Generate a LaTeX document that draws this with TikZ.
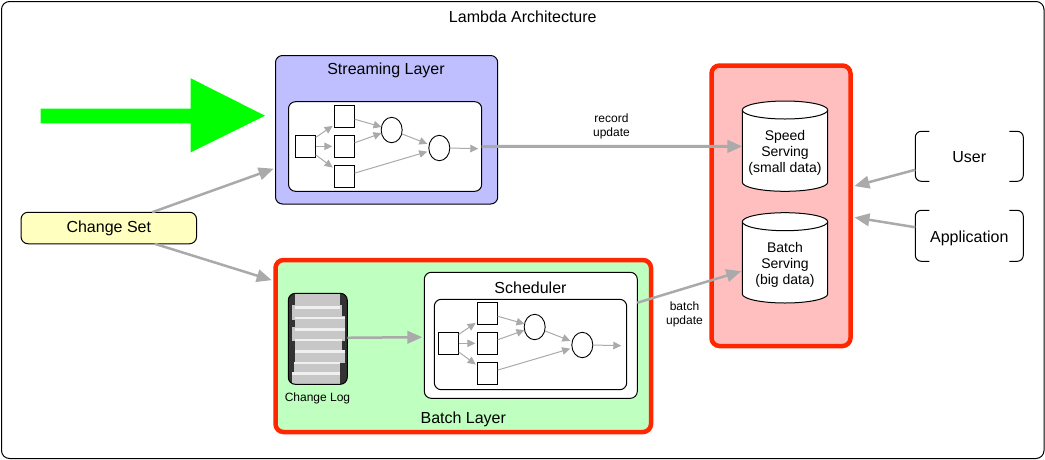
\documentclass[tikz,border=0pt]{standalone}
\usepackage{fontspec}
\setmainfont{Liberation Sans}
\usetikzlibrary{arrows.meta,shapes.geometric,calc}
\definecolor{appred}{HTML}{FF2600}
\definecolor{linegray}{HTML}{AAAAAA}
\definecolor{streamfill}{HTML}{BFBFFF}
\definecolor{batchfill}{HTML}{BFFFBF}
\definecolor{servefill}{HTML}{FFBFBF}
\definecolor{csfill}{HTML}{FFFFC0}
\tikzset{
  x=1pt,y=-1pt,
  every node/.style={outer sep=0pt,inner sep=0pt,text=black},
  txt/.style={font=\fontsize{16}{19}\selectfont,align=center},
  smalltxt/.style={font=\fontsize{12}{13.8}\selectfont,align=center},
  storetxt/.style={font=\fontsize{14}{16}\selectfont,align=center},
  panel/.style={draw=black,line width=1pt,rounded corners=7pt,fill=white},
  redpanel/.style={draw=appred,line width=4.5pt,rounded corners=8pt},
  sq/.style={draw=black,line width=.9pt,fill=white,minimum width=20.4pt,minimum height=22pt},
  circ/.style={draw=black,line width=.9pt,fill=white,ellipse,minimum width=21pt,minimum height=25.4pt},
  thin arrow/.style={draw=linegray,line width=1pt,-{Triangle[length=8pt,width=7.5pt]}},
  thick arrow/.style={draw=linegray,line width=3pt,-{Triangle[length=15pt,width=12.5pt]}},
  bracket/.style={draw=black,line width=1pt,rounded corners=6pt},
  flow/.pic={
    \node[sq] (s1) at (0,0) {};
    \node[sq] (s2) at (39,-29.8) {};
    \node[sq] (s3) at (39,0) {};
    \node[sq] (s4) at (39,30.1) {};
    \node[circ] (c1) at (86.2,-16.3) {};
    \node[circ] (c2) at (133.8,1.7) {};
    \coordinate (out) at (172.8,2.4);
    \draw[thin arrow,shorten >=2pt] (s1.41) -- (s2.219);
    \draw[thin arrow,shorten >=2pt] (s1.0) -- (s3.180);
    \draw[thin arrow,shorten >=2pt] (s1.-40) -- (s4.143);
    \draw[thin arrow] (s2.-15) -- (c1.163);
    \draw[thin arrow] (s3.19) -- (c1.197);
    \draw[thin arrow,shorten >=2pt] (c1.-21) -- (c2.161);
    \draw[thin arrow,shorten >=2pt] (s4.18) -- (c2.197);
    \draw[thin arrow] (c2.0) -- (out);
  }
}
\newcommand{\storedrum}[4]{% name, x, y, text
  \draw[draw=black,line width=1pt,fill=white]
    (#2-42.7,#3-36.15) arc[start angle=180,end angle=0,x radius=42.7pt,y radius=9pt]
    -- (#2+42.7,#3+36.15) arc[start angle=0,end angle=-180,x radius=42.7pt,y radius=9pt] -- cycle;
  \draw[draw=black,line width=1pt]
    (#2-42.7,#3-36.15) arc[start angle=180,end angle=360,x radius=42.7pt,y radius=9pt];
  \node[storetxt,minimum width=85.4pt,minimum height=76.3pt] (#1) at (#2,#3+7) {#4};
}
\begin{document}
\begin{tikzpicture}
\useasboundingbox (0,0) rectangle (1045,459);
\fill[white] (0,0) rectangle (1045,459);
\node[draw=black,line width=1pt,rounded corners=8pt,minimum width=1042.5pt,minimum height=457pt] (frame) at (522.75,230) {};
\node[txt] (title) at (522.8,16.5) {Lambda Architecture};

% green arrow
\fill[green] (40.7,108.7) -- (190.7,108.7) -- (190.7,78.3) -- (265,115.7) -- (190.7,152.3) -- (190.7,123.3) -- (40.7,123.3) -- cycle;

% change set
\node[draw=black,line width=1pt,rounded corners=7pt,fill=csfill,txt,minimum width=175.5pt,minimum height=31.5pt] (cs) at (108.8,228) {\raisebox{-2pt}{Change Set}};

% streaming layer
\node[panel,fill=streamfill,minimum width=222.2pt,minimum height=148.5pt] (stream) at (386.6,129.75) {};
\node[txt] (streamlabel) at (386,70.3) {Streaming Layer};
\node[panel,minimum width=193.2pt,minimum height=89.6pt] (streaminner) at (385.1,146.5) {};
\pic (a) at (305.5,146.3) {flow};

% batch layer
\node[redpanel,fill=batchfill,minimum width=375.5pt,minimum height=172pt] (batch) at (463.25,346) {};
\node[txt] (batchlabel) at (463.3,419) {Batch Layer};
\node[panel,minimum width=213pt,minimum height=126pt] (sched) at (530.8,335.3) {};
\node[txt] (schedlabel) at (530.5,287.7) {Scheduler};
\node[panel,minimum width=192.4pt,minimum height=90.4pt] (schedinner) at (530.5,344.5) {};
\pic (b) at (448.5,343.3) {flow};

% change log
\node[draw=none,fill=none,rounded corners=7pt,minimum width=59pt,minimum height=91pt] (log) at (317.8,338.8) {};
\begin{scope}
  \clip[rounded corners=7pt] (log.north west) rectangle (log.south east);
  \fill[black!80] (log.north west) rectangle (log.south east);
  \fill[black!22] (295.3,293) rectangle (340.3,306);
  \fill[black!22] (292.3,305) rectangle (342.3,320);
  \fill[black!22] (295.3,316.3) rectangle (344.7,328);
  \fill[black!22] (292.3,327) rectangle (344.7,341);
  \fill[black!22] (294.7,340) rectangle (342.3,352);
  \fill[black!22] (294.7,351) rectangle (344.7,363);
  \fill[black!22] (294,362) rectangle (340.3,374);
  \fill[black!22] (292.3,373) rectangle (340.3,385);
  \fill[black!6] (294.7,306.3) rectangle (340.3,309);
  \fill[black!6] (295,317) rectangle (344.7,319.3);
  \fill[black!6] (294.7,328) rectangle (344.7,331);
  \fill[black!6] (294.7,339.3) rectangle (342.3,341);
  \fill[black!6] (294.7,350.3) rectangle (344.7,353);
  \fill[black!6] (294,361.5) rectangle (340.3,364);
  \fill[black!6] (292.3,372) rectangle (340.3,375);
\end{scope}
\draw[black,line width=1pt,rounded corners=7pt] (log.north west) rectangle (log.south east);
\node[smalltxt] (loglabel) at (317.5,398) {Change Log};

% serving panel
\node[redpanel,fill=servefill,minimum width=139pt,minimum height=280.5pt] (serve) at (781,205.75) {};
\storedrum{speed}{785}{146.15}{Speed\\Serving\\(small data)}
\storedrum{batchstore}{785}{257.85}{Batch\\Serving\\(big data)}

% clients
\node[txt,minimum width=108pt,minimum height=50pt] (user) at (969.3,157) {User};
\node[txt,minimum width=108pt,minimum height=51pt] (app) at (969.3,238) {Application};
\foreach \n/\o in {user/-0.7,app/-2.2}{
  \draw[bracket] ($(\n.north west)+(14,\o)$) -- ($(\n.north west)+(0,\o)$) -- ($(\n.south west)+(0,\o)$) -- ($(\n.south west)+(14,\o)$);
  \draw[bracket] ($(\n.north east)+(-14,\o)$) -- ($(\n.north east)+(0,\o)$) -- ($(\n.south east)+(0,\o)$) -- ($(\n.south east)+(-14,\o)$);
}

% connectors
\draw[thick arrow,shorten >=2pt,line width=2.5pt] (cs.20) -- (stream.199);
\draw[thick arrow,shorten >=4pt,line width=2.5pt] (cs.-19) -- (batch.161);
\draw[thick arrow] (streaminner.0) -- (speed.171);
\draw[thick arrow,line width=2.5pt,shorten >=1pt] (sched.17) -- (batchstore.188);
\draw[thick arrow,line width=2.5pt,shorten >=2pt] (log.2) -- (sched.181);
\draw[thick arrow,line width=2.5pt,shorten >=4pt] ([yshift=.7pt]user.194) -- (serve.15);
\draw[thick arrow,line width=2.5pt,shorten >=4pt] ([yshift=2.2pt]app.171) -- (serve.-9);

\node[smalltxt] (recordlabel) at (611.5,126) {record\\update};
\node[smalltxt] (batchupdate) at (684.5,314) {batch\\update};
\end{tikzpicture}
\end{document}
